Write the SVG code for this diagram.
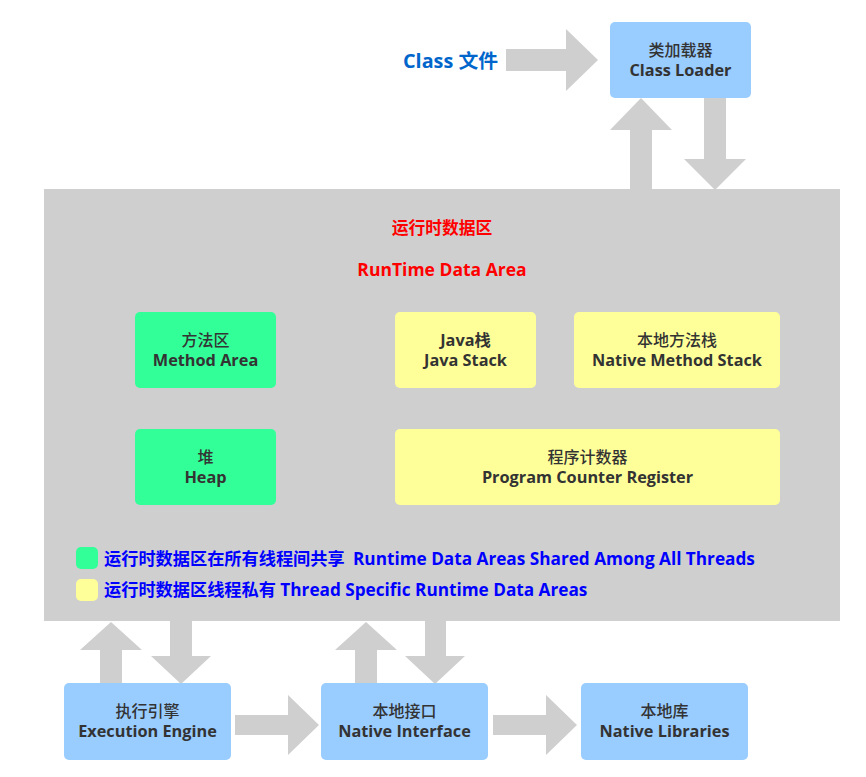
<svg xmlns="http://www.w3.org/2000/svg" width="866" height="777" viewBox="0 0 866 777">
<style>
text{font-family:"Open Sans","Noto Sans CJK SC",sans-serif;}
.arr{fill:#cfcfcf;}
.blue{fill:#99ccff;}
.green{fill:#33ff99;}
.yellow{fill:#ffff99;}
.cn{font-size:16px;font-weight:500;fill:#333;text-anchor:middle;}
.en{font-size:16.3px;font-weight:bold;fill:#333;text-anchor:middle;}
.legend{font-size:17.2px;font-weight:bold;fill:#0000ff;}
</style>
<rect width="866" height="777" fill="#ffffff"/>
<g id="runtime-data-area">
<rect x="44" y="189" width="796" height="432" fill="#cfcfcf"/>
<text x="442" y="234" font-size="16.8" font-weight="bold" fill="#ff0000" text-anchor="middle">运行时数据区</text>
<text x="442" y="276" font-size="17.5" font-weight="bold" fill="#ff0000" text-anchor="middle">RunTime Data Area</text>
</g>
<g id="connectors">
<polygon class="arr" points="506,49 566,49 566,29 598,60 566,91 566,71 506,71"/>
<polygon class="arr" points="630,189 630,130 610,130 641,98 672,130 652,130 652,189"/>
<polygon class="arr" points="704,98 726,98 726,159 746,159 715,190 684,159 704,159"/>
<polygon class="arr" points="100,683 100,650 80,650 111,622 142,650 122,650 122,683"/>
<polygon class="arr" points="170,621 192,621 192,656 211,656 181,684 151,656 170,656"/>
<polygon class="arr" points="355,683 355,650 335,650 366,622 397,650 377,650 377,683"/>
<polygon class="arr" points="425,621 446,621 446,656 465,656 435,684 405,656 425,656"/>
<polygon class="arr" points="235,715 288,715 288,695 319,725 288,755 288,735 235,735"/>
<polygon class="arr" points="493,715 546,715 546,695 577,725 546,755 546,735 493,735"/>
</g>
<g id="class-file">
<text x="403" y="68" font-size="19.8" font-weight="bold" fill="#0066cc">Class 文件</text>
</g>
<g id="class-loader">
<rect class="blue" x="610" y="22" width="141" height="76" rx="5"/>
<text class="cn" x="680.5" y="56">类加载器</text>
<text class="en" x="680.5" y="76">Class Loader</text>
</g>
<g id="method-area">
<rect class="green" x="135" y="312" width="141" height="76" rx="5"/>
<text class="cn" x="205.5" y="346">方法区</text>
<text class="en" x="205.5" y="366">Method Area</text>
</g>
<g id="heap">
<rect class="green" x="135" y="429" width="141" height="76" rx="5"/>
<text class="cn" x="205.5" y="463">堆</text>
<text class="en" x="205.5" y="483">Heap</text>
</g>
<g id="java-stack">
<rect class="yellow" x="395" y="312" width="141" height="76" rx="5"/>
<text class="en" x="465.5" y="346">Java栈</text>
<text class="en" x="465.5" y="366">Java Stack</text>
</g>
<g id="native-method-stack">
<rect class="yellow" x="574" y="312" width="206" height="76" rx="5"/>
<text class="cn" x="677" y="346">本地方法栈</text>
<text class="en" x="677" y="366">Native Method Stack</text>
</g>
<g id="pc-register">
<rect class="yellow" x="395" y="429" width="385" height="76" rx="5"/>
<text class="cn" x="587.5" y="463">程序计数器</text>
<text class="en" x="587.5" y="483">Program Counter Register</text>
</g>
<g id="legend">
<rect class="green" x="76" y="547" width="22" height="22" rx="5"/>
<rect class="yellow" x="76" y="579" width="22" height="22" rx="5"/>
<text class="legend" x="104" y="565">运行时数据区在所有线程间共享 <tspan x="353">Runtime Data Areas Shared Among All Threads</tspan></text>
<text class="legend" x="104" y="596">运行时数据区线程私有 Thread Specific Runtime Data Areas</text>
</g>
<g id="execution-engine">
<rect class="blue" x="64" y="683" width="167" height="77" rx="5"/>
<text class="cn" x="147.5" y="717">执行引擎</text>
<text class="en" x="147.5" y="737">Execution Engine</text>
</g>
<g id="native-interface">
<rect class="blue" x="321" y="683" width="167" height="77" rx="5"/>
<text class="cn" x="404.5" y="717">本地接口</text>
<text class="en" x="404.5" y="737">Native Interface</text>
</g>
<g id="native-libraries">
<rect class="blue" x="581" y="683" width="167" height="77" rx="5"/>
<text class="cn" x="664.5" y="717">本地库</text>
<text class="en" x="664.5" y="737">Native Libraries</text>
</g>
</svg>
